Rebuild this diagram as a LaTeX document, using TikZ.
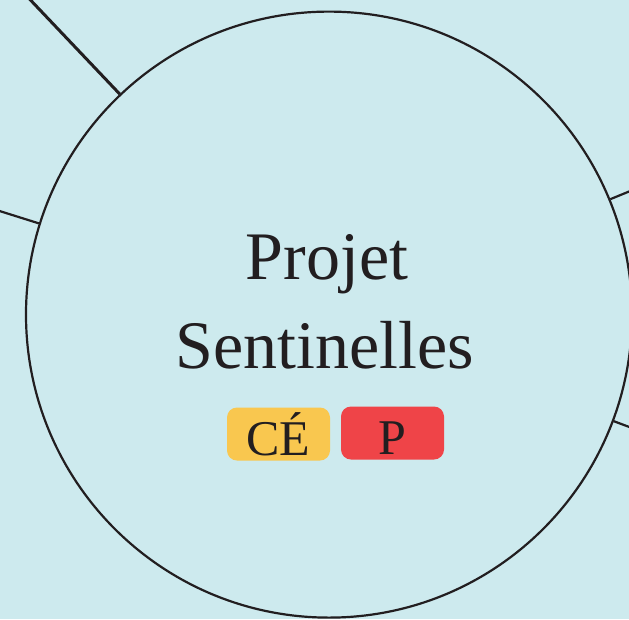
\documentclass[tikz,border=0pt]{standalone}
\usepackage{fontspec}
\setmainfont{Liberation Serif}
\usepackage{tikz}
\usetikzlibrary{calc}
\definecolor{skybg}{RGB}{205,234,238}
\definecolor{ink}{RGB}{34,30,32}
\definecolor{ceyellow}{RGB}{249,199,79}
\definecolor{pred}{RGB}{239,68,72}
\tikzset{
	hubline/.style={draw=ink, line width=2.2pt},
	badge/.style={rounded corners=10pt, minimum width=103pt, minimum height=53pt,
		inner sep=0pt, text height=42pt, text depth=0pt, text=ink,
		font=\fontsize{50}{50}\selectfont},
	title/.style={anchor=base, text=ink, inner sep=0pt, font=\fontsize{68}{68}\selectfont},
}

\begin{document}
\begin{tikzpicture}[x=1pt,y=-1pt]
	\fill[skybg] (0,0) rectangle (629,619);
	\useasboundingbox (0,0) rectangle (629,619);
	\clip (0,0) rectangle (629,619);
	% the project circle and its spokes
	\node[circle, hubline, minimum size=606pt, inner sep=0pt] (hub) at (329,314.6) {};
	\coordinate (nw) at (21,-10);
	\coordinate (west) at (-10,208);
	\coordinate (ene) at (640,187);
	\coordinate (ese) at (640,431);
	\draw[draw=ink, line width=3pt] (hub) -- (nw);
	\draw[hubline] (hub) -- (west);
	\draw[hubline] (hub) -- (ene);
	\draw[hubline] (hub) -- (ese);
	% title
	\node[title] (proj) at (327,279) {Projet};
	\node[title] (sent) at (325,368) {Sentinelles};
	% badges
	\node[badge, fill=ceyellow] (ce) at (278.5,434) {CÉ};
	\node[badge, fill=pred] (p) at (392.5,433) {P};
\end{tikzpicture}
\end{document}
